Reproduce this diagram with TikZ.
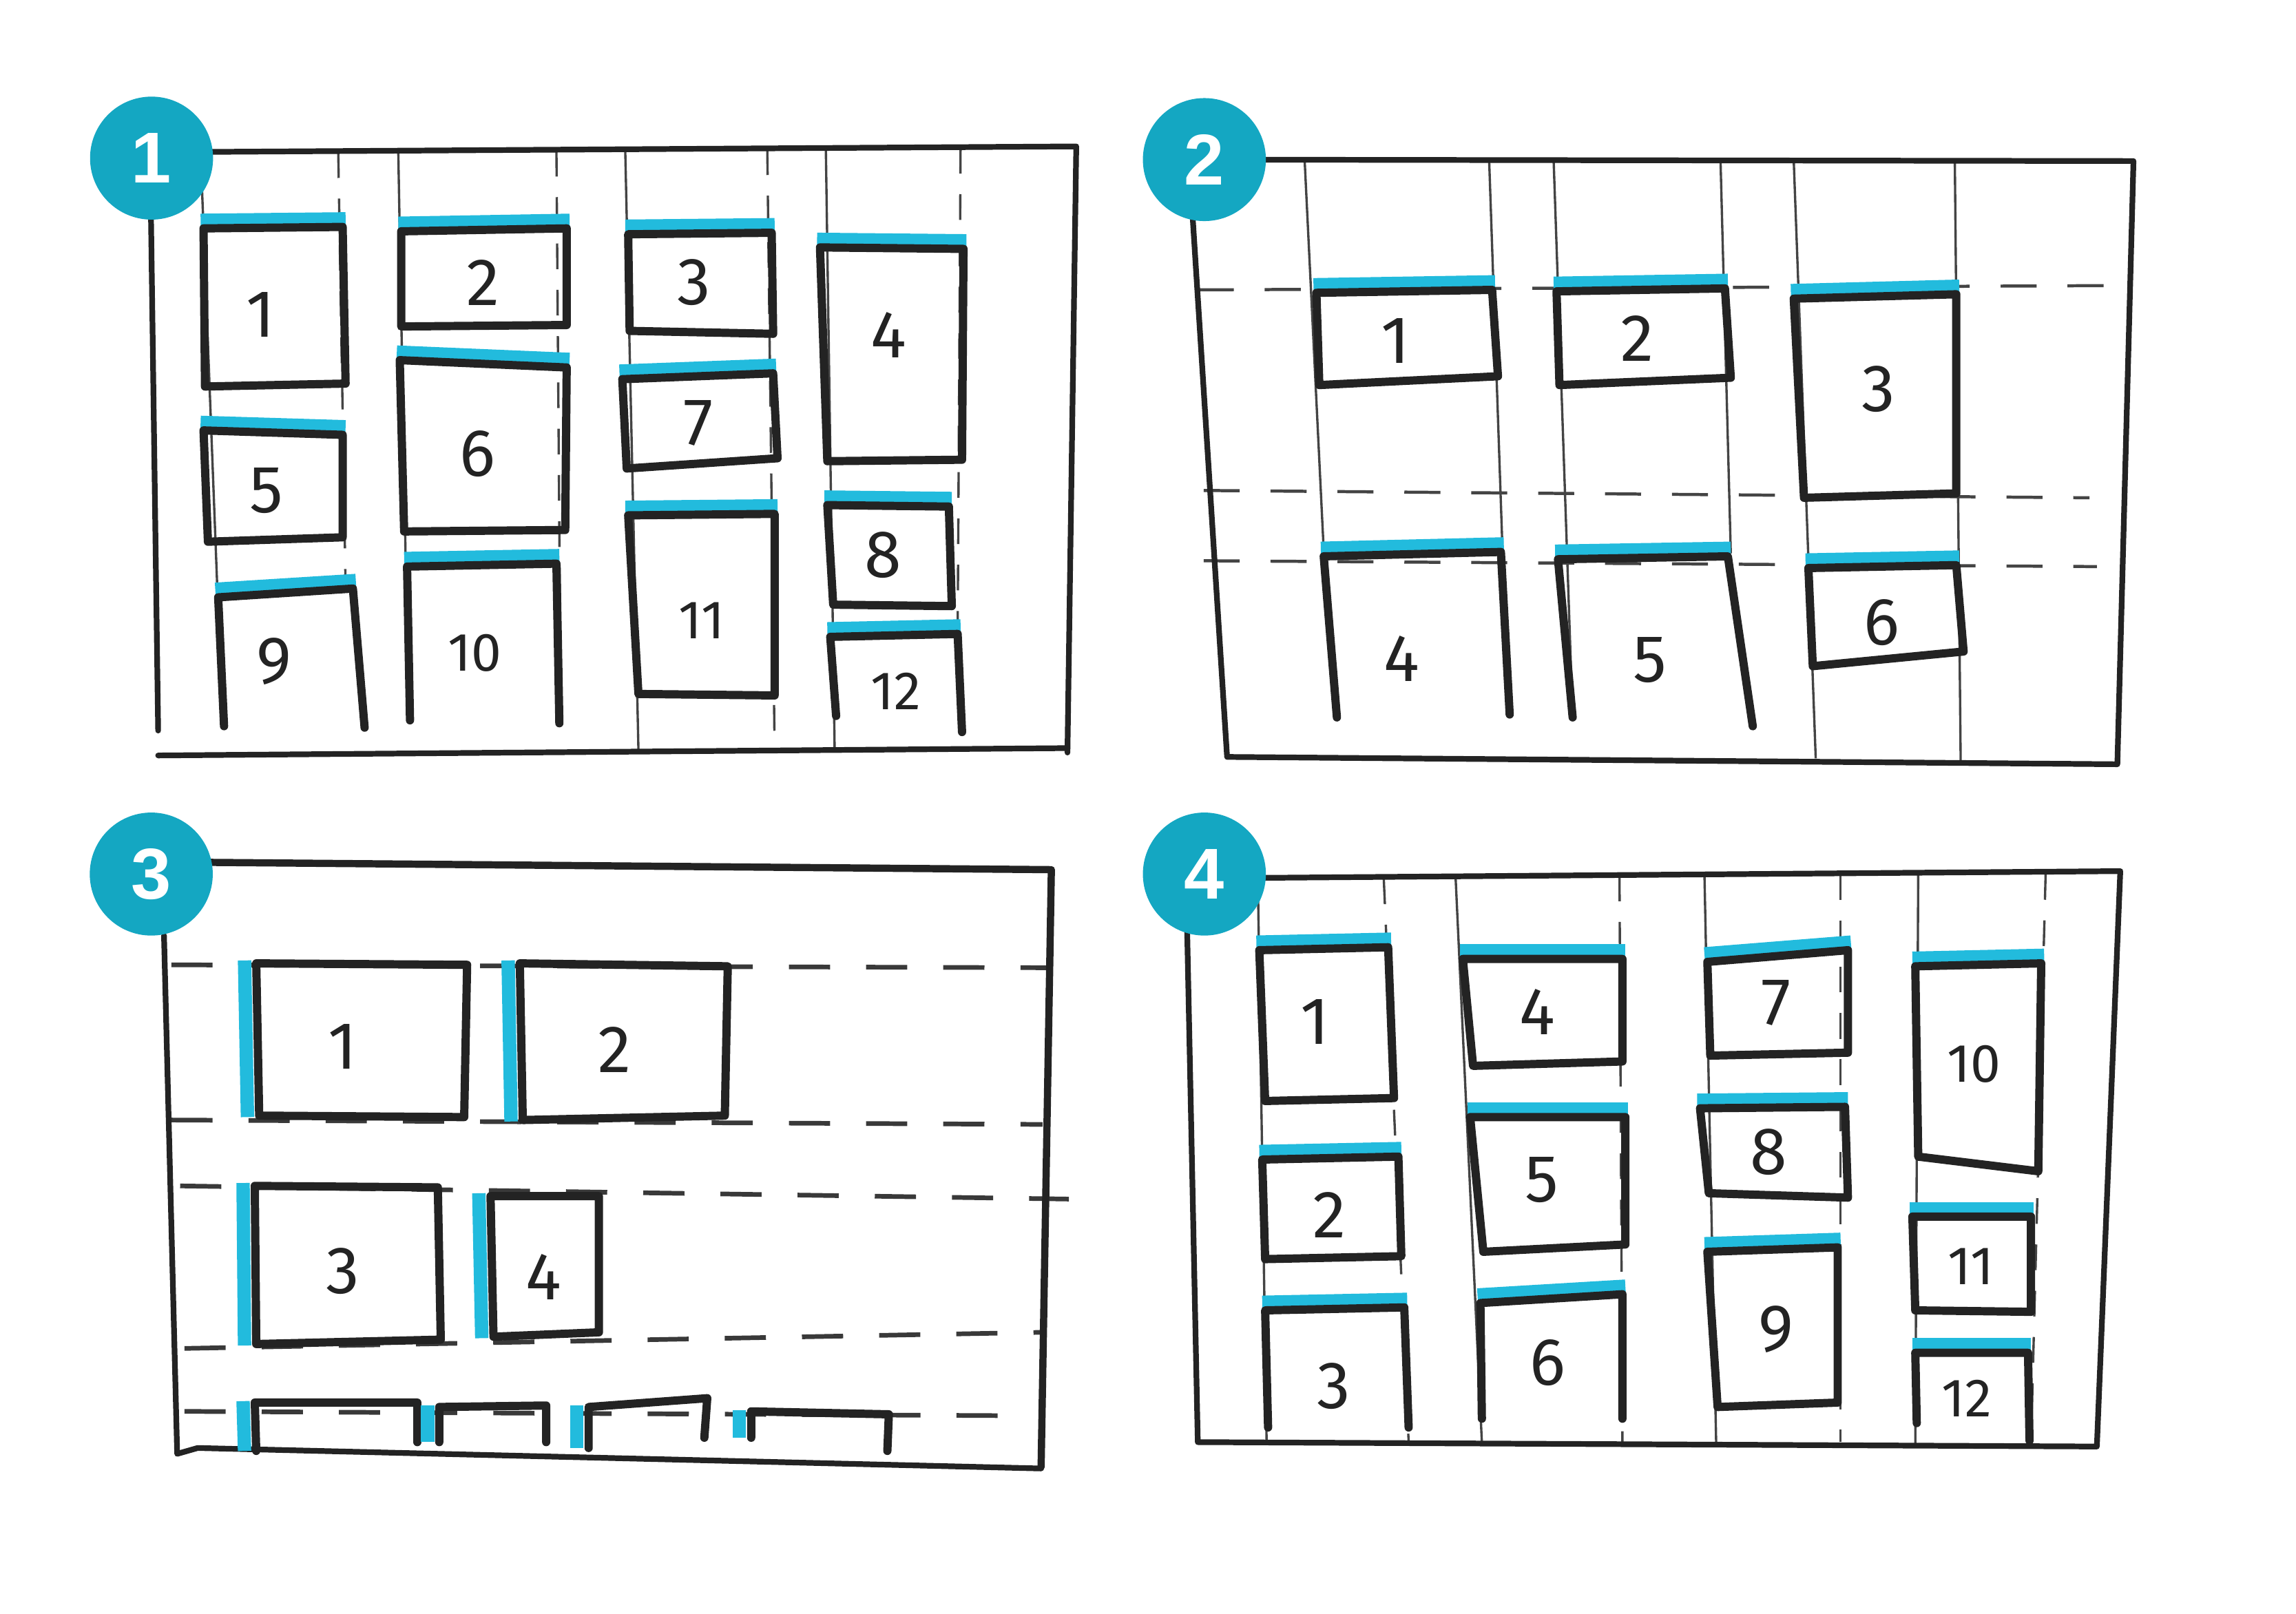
\documentclass[tikz,border=0pt]{standalone}
\usepackage{fontspec}
\setmainfont{Fira Sans}
\newfontfamily\badgefont{Liberation Sans}
\definecolor{badge}{HTML}{14A7C2}
\definecolor{marker}{HTML}{22BBDD}
\definecolor{ink}{HTML}{232323}
% closed box, corners TL TR BR BL, blue bar on top
\newcommand{\qbox}[8]{%
  \draw[bar] ({#1-2},{#2-5.5}) -- ({#3+2},{#4-5.5});
  \draw[boxl] (#1,#2) -- (#3,#4) -- (#5,#6) -- (#7,#8) -- cycle;}
% open-bottom box, blue bar on top
\newcommand{\qopen}[8]{%
  \draw[bar] ({#1-2},{#2-5.5}) -- ({#3+2},{#4-5.5});
  \draw[boxl] (#7,#8) -- (#1,#2) -- (#3,#4) -- (#5,#6);}
% closed box, blue bar on left
\newcommand{\lbox}[8]{%
  \draw[bar] ({#1-8},{#2-2}) -- ({#7-8},{#8+1});
  \draw[boxl] (#1,#2) -- (#3,#4) -- (#5,#6) -- (#7,#8) -- cycle;}
% open-bottom box, blue bar on left
\newcommand{\lopen}[8]{%
  \draw[bar] ({#1-8},{#2-1}) -- ({#7-8},{#8});
  \draw[boxl] (#7,#8) -- (#1,#2) -- (#3,#4) -- (#5,#6);}
\begin{document}
\begin{tikzpicture}[x=0.1mm,y=-0.1mm,
  frame/.style={draw=ink, line width=1.1pt, line join=round, line cap=round},
  gridl/.style={draw=ink!85, line width=0.45pt},
  gridd/.style={gridl, dash pattern=on 5pt off 4pt},
  gridh/.style={draw=ink!85, line width=0.6pt, dash pattern=on 7pt off 6pt},
  gridh3/.style={draw=ink!90, line width=0.9pt, dash pattern=on 8pt off 7pt},
  boxl/.style={draw=ink, line width=1.6pt, line join=round, line cap=round},
  bar/.style={draw=marker, line width=2.6pt},
  lbl/.style={font=\fontsize{13}{13}\selectfont, text=ink, inner sep=0pt},
  lbls/.style={font=\fontsize{10.5}{10.5}\selectfont, text=ink, inner sep=0pt},
  badgec/.style={circle, fill=badge, minimum size=8.4mm, inner sep=0pt,
    font=\badgefont\bfseries\fontsize{14}{14}\selectfont, text=white}]
\fill[white] (0,0) rectangle (1568,1102);
\useasboundingbox (0,0) rectangle (1568,1102);

% ================= Panel 1 =================
\draw[gridl] (137,104) -- (152,496);
\draw[gridd] (231,104) -- (236,400);
\draw[gridl] (272,104) -- (279,492);
\draw[gridd] (380,103) -- (383,494);
\draw[gridl] (427,103) -- (436,512);
\draw[gridd] (524,102) -- (529,512);
\draw[gridl] (564,102) -- (570,512);
\draw[gridd] (656,101) -- (654,434);
\draw[frame] (103,104) -- (735,100) -- (729,514);
\draw[frame] (727,511) -- (108,516);
\draw[frame] (103,140) -- (108,499);
\qbox{139}{156}{234}{155}{236}{262}{140}{264}
\qbox{274}{158}{387}{156}{387}{222}{274}{223}
\qbox{429}{160}{527}{159}{528}{228}{430}{226}
\qbox{560}{169}{658}{170}{657}{314}{565}{315}
\qbox{139}{294}{234}{297}{234}{367}{142}{370}
\qbox{273}{246}{387}{251}{386}{362}{276}{363}
\qbox{425}{259}{528}{255}{531}{313}{428}{320}
\qbox{565}{345}{648}{346}{650}{414}{569}{413}
\qopen{149}{408}{241}{402}{249}{497}{153}{496}
\qopen{278}{387}{380}{385}{382}{494}{280}{492}
\qbox{429}{352}{529}{351}{529}{475}{436}{474}
\qopen{567}{435}{654}{433}{657}{500}{571}{489}
\node[lbl] (p1n1) at (178,215) {1};
\node[lbl] (p1n2) at (330,193) {2};
\node[lbl] (p1n3) at (474,193) {3};
\node[lbl] (p1n4) at (607,229) {4};
\node[lbl] (p1n5) at (182,335) {5};
\node[lbl] (p1n6) at (326,310) {6};
\node[lbl] (p1n7) at (477,289) {7};
\node[lbl] (p1n8) at (603,379) {8};
\node[lbl] (p1n9) at (187,452) {9};
\node[lbls] (p1n10) at (324,446) {10};
\node[lbls] (p1n11) at (479,424) {11};
\node[lbls] (p1n12) at (612,472) {12};

% ================= Panel 2 =================
\draw[gridl] (891,110) -- (904,376);
\draw[gridl] (1017,110) -- (1030,490);
\draw[gridl] (1061,109) -- (1074,490);
\draw[gridl] (1175,110) -- (1182,378);
\draw[gridl] (1225,110) -- (1240,518);
\draw[gridl] (1335,110) -- (1339,521);
\draw[gridh] (818,198) -- (1455,195);
\draw[gridh] (822,335) -- (1427,340);
\draw[gridh] (822,383) -- (1432,387);
\draw[frame] (812,109) -- (1457,110) -- (1446,522) -- (838,517) -- cycle;
\qbox{899}{200}{1019}{198}{1023}{257}{901}{263}
\qbox{1063}{199}{1178}{197}{1182}{258}{1065}{263}
\qbox{1225}{204}{1336}{201}{1336}{337}{1232}{340}
\qopen{904}{380}{1025}{377}{1031}{488}{913}{490}
\qopen{1064}{382}{1180}{380}{1197}{496}{1074}{490}
\qbox{1235}{388}{1336}{386}{1341}{445}{1238}{455}
\node[lbl] (p2n1) at (953,233) {1};
\node[lbl] (p2n2) at (1118,231) {2};
\node[lbl] (p2n3) at (1283,266) {3};
\node[lbl] (p2n4) at (957,450) {4};
\node[lbl] (p2n5) at (1127,451) {5};
\node[lbl] (p2n6) at (1285,425) {6};

% ================= Panel 3 =================
\draw[gridh3] (117,659) -- (719,661);
\draw[gridh3] (117,765) -- (712,768);
\draw[gridh3] (123,810) -- (730,819);
\draw[gridh3] (126,921) -- (712,910);
\draw[gridh3] (126,964) -- (700,967);
\draw[frame, line width=1.4pt] (140,589) -- (718,594) -- (711,1002);
\draw[frame] (112,639) -- (121,993) -- (135,989) -- (711,1003);
\lbox{175}{658}{319}{659}{317}{763}{177}{762}
\lbox{355}{658}{497}{660}{495}{762}{357}{765}
\lbox{174}{810}{299}{811}{301}{915}{175}{918}
\lbox{335}{817}{409}{817}{409}{910}{337}{913}
\lopen{174}{958}{285}{958}{285}{985}{175}{991}
\lopen{300}{961}{373}{960}{373}{985}{300}{985}
\lopen{402}{961}{483}{955}{481}{982}{402}{989}
\lopen{513}{964}{607}{966}{606}{991}{513}{982}
\node[lbl] (p3n1) at (234,715) {1};
\node[lbl] (p3n2) at (420,717) {2};
\node[lbl] (p3n3) at (234,868) {3};
\node[lbl] (p3n4) at (371,872) {4};

% ================= Panel 4 =================
\draw[gridl] (859,600) -- (865,985);
\draw[gridd] (945,600) -- (962,985);
\draw[gridl] (994,598) -- (1012,985);
\draw[gridd] (1106,598) -- (1108,985);
\draw[gridl] (1164,597) -- (1172,985);
\draw[gridd] (1257,597) -- (1257,985);
\draw[gridl] (1310,596) -- (1308,988);
\draw[gridd] (1397,597) -- (1387,988);
\draw[frame] (810,600) -- (1448,595) -- (1432,988) -- (818,985) -- cycle;
\qbox{860}{649}{948}{647}{952}{750}{864}{752}
\qbox{862}{792}{955}{790}{957}{858}{864}{860}
\qopen{864}{895}{959}{893}{962}{975}{866}{975}
\qbox{999}{655}{1108}{655}{1108}{725}{1006}{728}
\qbox{1004}{763}{1110}{763}{1110}{850}{1013}{855}
\qopen{1011}{890}{1108}{884}{1108}{969}{1012}{969}
\qbox{1166}{657}{1262}{649}{1262}{719}{1168}{721}
\qbox{1161}{757}{1260}{756}{1262}{818}{1167}{815}
\qbox{1166}{855}{1255}{852}{1255}{958}{1173}{961}
\qbox{1308}{660}{1394}{658}{1392}{800}{1310}{790}
\qbox{1306}{831}{1387}{831}{1387}{896}{1308}{895}
\qopen{1308}{924}{1385}{924}{1386}{984}{1309}{972}
\node[lbl] (p4n1) at (898,698) {1};
\node[lbl] (p4n2) at (908,830) {2};
\node[lbl] (p4n3) at (911,947) {3};
\node[lbl] (p4n4) at (1050,691) {4};
\node[lbl] (p4n5) at (1053,806) {5};
\node[lbl] (p4n6) at (1057,931) {6};
\node[lbl] (p4n7) at (1213,685) {7};
\node[lbl] (p4n8) at (1208,787) {8};
\node[lbl] (p4n9) at (1213,908) {9};
\node[lbls] (p4n10) at (1348,727) {10};
\node[lbls] (p4n11) at (1346,865) {11};
\node[lbls] (p4n12) at (1343,955) {12};

% ================= Badges =================
\node[badgec] (badge1) at (103.5,108) {1};
\node[badgec] (badge2) at (822.5,109) {2};
\node[badgec] (badge3) at (103.3,597) {3};
\node[badgec] (badge4) at (822.5,597) {4};
\end{tikzpicture}
\end{document}
